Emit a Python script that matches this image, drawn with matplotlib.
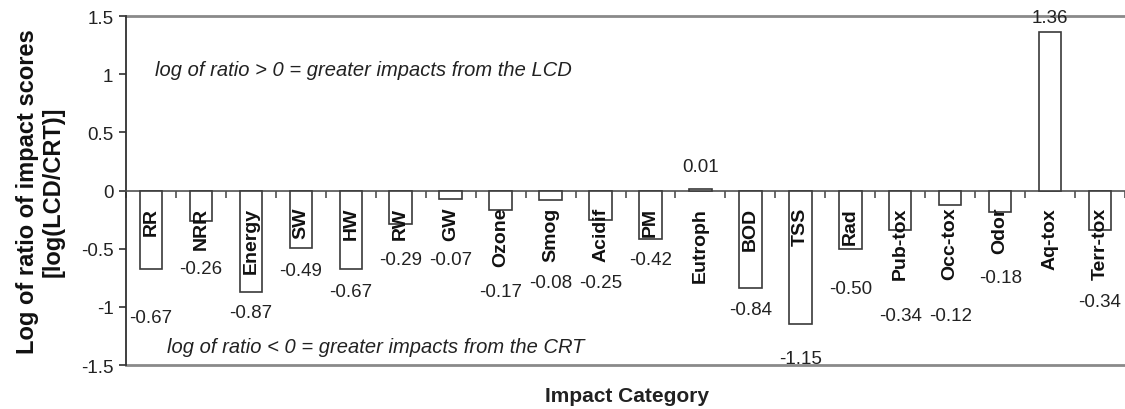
import matplotlib.pyplot as plt
import matplotlib.ticker as ticker
import numpy as np

plt.rcParams.update({
    "font.family": ["Liberation Sans", "DejaVu Sans"],
    "axes.unicode_minus": False,
})

categories = ["RR", "NRR", "Energy", "SW", "HW", "RW", "GW", "Ozone", "Smog", "Acidif",
              "PM", "Eutroph", "BOD", "TSS", "Rad", "Pub-tox", "Occ-tox", "Odor", "Aq-tox", "Terr-tox"]
values = [-0.67, -0.26, -0.87, -0.49, -0.67, -0.29, -0.07, -0.17, -0.08, -0.25,
          -0.42, 0.01, -0.84, -1.15, -0.50, -0.34, -0.12, -0.18, 1.36, -0.34]
# hand-placed y positions of the value labels (data units)
label_y = [-1.09, -0.67, -1.05, -0.69, -0.87, -0.59, -0.59, -0.87, -0.79, -0.79,
           -0.59, 0.21, -1.02, -1.44, -0.84, -1.07, -1.07, -0.75, 1.49, -0.95]
yticks = [-1.5, -1, -0.5, 0, 0.5, 1, 1.5]

fig = plt.figure(figsize=(11.25, 4.10), dpi=100)
ax = fig.add_axes([0.112, 0.107, 0.888, 0.8515])

x = np.arange(len(categories))
ax.bar(x, values, width=0.45, color="white", edgecolor="#3a3a3a", linewidth=1.2, zorder=3)

ax.set_xlim(-0.5, len(categories) - 0.5)
ax.set_ylim(-1.5, 1.5)

# spines: left dark, zero axis with boundary ticks, grey frame lines top/bottom
for s in ["top", "right"]:
    ax.spines[s].set_visible(False)
ax.spines["left"].set_color("#303030")
ax.spines["left"].set_linewidth(1.3)
ax.spines["bottom"].set_position(("data", 0))
ax.spines["bottom"].set_color("#505050")
ax.spines["bottom"].set_linewidth(1.2)
ax.axhline(1.5, color="#8a8a8a", linewidth=2.0, clip_on=False)
ax.axhline(-1.5, color="#8a8a8a", linewidth=2.0, clip_on=False)

ax.set_xticks(np.arange(len(categories) + 1) - 0.5)
ax.tick_params(axis="x", direction="out", length=5, width=1.2, color="#505050", labelbottom=False)
ax.set_yticks(yticks)
ax.yaxis.set_major_formatter(ticker.FuncFormatter(lambda v, _: f"{v:g}"))
ax.tick_params(axis="y", direction="out", length=5, width=1.2, color="#303030",
               labelsize=13.5, labelcolor="#222222", pad=4)

for xi, name in zip(x, categories):
    ax.text(xi, -0.14, name, rotation=90, ha="center", va="top",
            fontsize=14, fontweight="bold", color="#111111", zorder=4)

for xi, v, ly in zip(x, values, label_y):
    ax.text(xi, ly, f"{v:.2f}", ha="center", va="center", fontsize=13.5, color="#222222", zorder=4)

ax.text(0.08, 1.04, "log of ratio > 0 = greater impacts from the LCD", style="italic",
        fontsize=14.5, color="#222222", va="center")
ax.text(0.32, -1.34, "log of ratio < 0 = greater impacts from the CRT", style="italic",
        fontsize=14.5, color="#222222", va="center")

fig.text(0.557, 0.032, "Impact Category", fontsize=15, fontweight="bold",
         color="#222222", ha="center", va="center")
ax.set_ylabel("Log of ratio of impact scores\n[log(LCD/CRT)]", fontsize=17,
              fontweight="bold", color="#111111", labelpad=12, linespacing=1.1)

fig.savefig("out.png", dpi=100)
